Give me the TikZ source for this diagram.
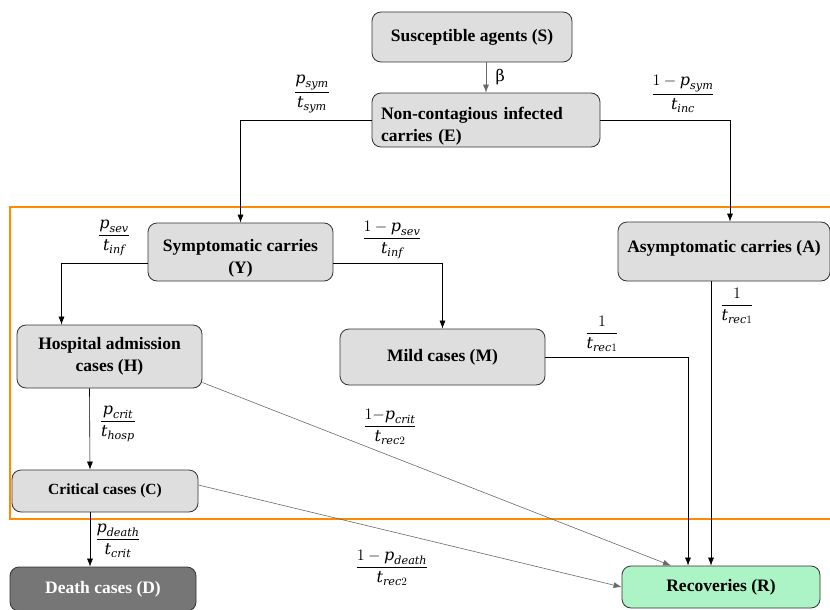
\RequirePackage{fix-cm}
\documentclass[tikz,border=0pt]{standalone}
\usepackage{amsmath}
\usepackage{fontspec}
\setmainfont{Liberation Serif}
\newfontfamily\rateFont{DejaVu Serif}
\usetikzlibrary{arrows.meta}
\tikzstyle{diagram} = [x = 1pt, y = -1pt]
\definecolor{boxColor}{RGB}{222,222,222}
\definecolor{borderColor}{RGB}{50,50,50}
\definecolor{frameColor}{RGB}{255,140,0}
\definecolor{deathColor}{RGB}{118,118,118}
\definecolor{recoveryColor}{RGB}{172,243,198}
\definecolor{flowGray}{RGB}{105,105,105}
\tikzstyle{stateBox} = [draw=borderColor, fill=boxColor, rounded corners = 9pt, line width=.8pt, font=\bfseries\fontsize{17.5}{22}\selectfont, align=center, inner sep=0pt]
\tikzstyle{flowLine} = [draw=black, line width=.6pt, -{Latex[length=8pt, width=6pt]}]
\tikzstyle{grayFlow} = [draw=flowGray, line width=.6pt, -{Latex[length=8pt, width=6pt]}]
\tikzstyle{rateText} = [font=\fontsize{16}{18}\selectfont, inner sep=0pt]
\newcommand{\stateNode}[6]{\node [stateBox, minimum width=#4pt, minimum height=#5pt] (#1) at (#2,#3) {#6};}
\newcommand{\rv}[1]{\text{\rateFont\itshape #1}}
\newcommand{\rateNode}[5]{\node [rateText] (#1) at (#2,#3) {$\dfrac{#4}{#5}$};}

\begin{document}
\begin{tikzpicture}[diagram]
  \useasboundingbox (0,0) rectangle (830,610);
  \stateNode{S}{472}{37}{200}{50}{Susceptible agents (S)}
  \node [stateBox, minimum width=228pt, minimum height=54pt, text width=210pt, align=left] (E) at (486,120) {\mbox{}\\[2.5pt]Non-contagious infected\\carries (E)};
  \stateNode{Y}{240.5}{252}{185}{58}{\mbox{}\\[2.5pt]Symptomatic carries\\(Y)}
  \stateNode{A}{724}{251.5}{212}{59}{Asymptomatic carries (A)\\[-12pt]\mbox{}}
  \stateNode{H}{109.5}{356.5}{185}{63}{Hospital admission\\cases (H)}
  \stateNode{M}{442.5}{357}{205}{56}{Mild cases (M)}
  \node [stateBox, minimum width=186pt, minimum height=42pt, font=\bfseries\fontsize{15.5}{18}\selectfont] (C) at (105,491) {Critical cases (C)};
  \node [stateBox, fill=deathColor, text=white, minimum width=186pt, minimum height=44pt] (D) at (103,589) {Death cases (D)};
  \node [stateBox, fill=recoveryColor, minimum width=198pt, minimum height=42pt] (R) at (721,587) {Recoveries (R)};
  \draw [frameColor, line width=2.4pt] (10,207) rectangle (840,519);

  % flows
  \draw [grayFlow] (S.south -| E.north) -- node [right=6pt, font=\rateFont\fontsize{16}{18}\selectfont] (beta) {β} (E.north);
  \draw [flowLine] (E.west) -| (Y.north);
  \draw [flowLine] (E.east) -| ([xshift=6pt]A.north);
  \draw [flowLine] ([yshift=-11pt]Y.west) -| ([xshift=-48pt]H.north);
  \draw [flowLine] ([yshift=-11pt]Y.east) -| (M.north);
  \draw [flowLine] ([xshift=-20pt]H.south) -- ([xshift=-15pt]C.north);
  \draw [flowLine] ([xshift=-15pt]C.south) -- ([xshift=-13pt]D.north);
  \draw [flowLine] ([xshift=-13pt]A.south) -- ([xshift=-10pt]R.north);
  \draw [flowLine] (M.east) -| ([xshift=-33pt]R.north);
  \draw [grayFlow] ([yshift=-26pt]H.east) -- ([xshift=-50pt]R.north);
  \draw [grayFlow] ([yshift=6pt]C.east) -- (R.west);

  % rates
  \rateNode{rSym}{312}{94}{\rv{p}_{\rv{sym}}}{\rv{t}_{\rv{sym}}}
  \rateNode{rInc}{683}{94}{1-\rv{p}_{\rv{sym}}}{\rv{t}_{\rv{inc}}}
  \rateNode{rSev}{114}{238}{\rv{p}_{\rv{sev}}}{\rv{t}_{\rv{inf}}}
  \rateNode{rMild}{392}{240}{1-\rv{p}_{\rv{sev}}}{\rv{t}_{\rv{inf}}}
  \rateNode{rRecA}{737}{306}{1}{\rv{t}_{\rv{rec}1}}
  \rateNode{rRecM}{602}{334}{1}{\rv{t}_{\rv{rec}1}}
  \rateNode{rCrit}{118}{424}{\rv{p}_{\rv{crit}}}{\rv{t}_{\rv{hosp}}}
  \rateNode{rRecH}{390}{427}{1{-}\rv{p}_{\rv{crit}}}{\rv{t}_{\rv{rec}2}}
  \rateNode{rDeath}{118}{541}{\rv{p}_{\rv{death}}}{\rv{t}_{\rv{crit}}}
  \rateNode{rRecC}{392}{568}{1-\rv{p}_{\rv{death}}}{\rv{t}_{\rv{rec}2}}
\end{tikzpicture}
\end{document}
